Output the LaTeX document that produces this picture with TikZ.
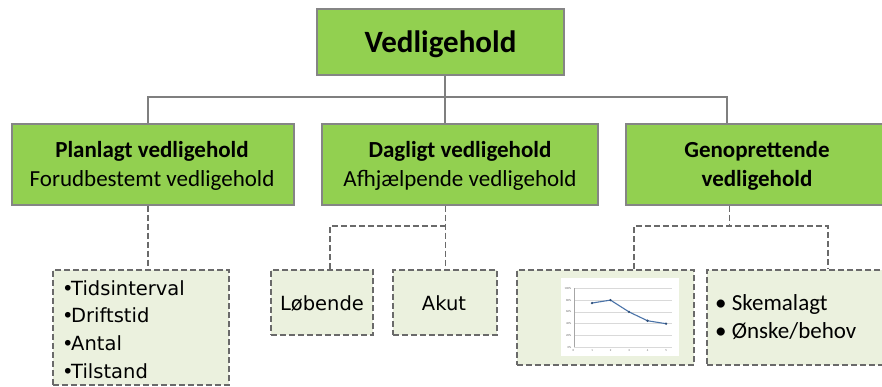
\documentclass[tikz,border=0pt]{standalone}
\usepackage{fontspec}
\setmainfont{Carlito}
\newfontfamily\listfont{DejaVu Sans}
\definecolor{leaf}{HTML}{92D050}
\definecolor{frame}{HTML}{858585}
\definecolor{linkgray}{HTML}{7F7F7F}
\definecolor{pale}{HTML}{EBF1DE}
\definecolor{dashgray}{HTML}{6A6A6A}
\definecolor{gridgray}{HTML}{D9D9D9}
\definecolor{series}{HTML}{4A73A8}
\definecolor{marker}{HTML}{2F4F7A}
\newcommand{\tightbullet}{•\kern-2.5pt}
\begin{document}
\begin{tikzpicture}[x=1pt,y=-1pt,
  greenbox/.style={draw=frame, line width=1.4pt, fill=leaf, inner sep=0pt},
  palebox/.style={draw=dashgray, line width=1.5pt, dash pattern=on 6pt off 3pt, fill=pale, inner sep=0pt},
  link/.style={draw=linkgray, line width=1.6pt},
  dlink/.style={draw=dashgray, line width=1.5pt, dash pattern=on 6pt off 3pt},
  headbold/.style={font=\fontsize{23}{27}\selectfont\bfseries, anchor=base, inner sep=0pt},
  headreg/.style={font=\fontsize{23}{27}\selectfont, anchor=base, inner sep=0pt},
  listtext/.style={font=\listfont\fontsize{19.5}{23}\selectfont, inner sep=0pt},
  tiny/.style={font=\fontsize{3}{3.5}\selectfont, inner sep=0pt, text=black!60}
]
\useasboundingbox (0,0) rectangle (882,387);
\clip (0,0) rectangle (882,387);

% main level
\node[greenbox, minimum width=247pt, minimum height=66pt] (top) at (440.5,42) {};
\node[font=\fontsize{31}{36}\selectfont\bfseries, anchor=base, inner sep=0pt] (toptext) at (440.5,53) {Vedligehold};

% second level
\node[greenbox, minimum width=282pt, minimum height=81pt] (plan) at (153,164.5) {};
\node[greenbox, minimum width=276pt, minimum height=81pt] (daily) at (460,164.5) {};
\node[greenbox, minimum width=262pt, minimum height=81pt] (restore) at (757,164.5) {};

\node[headbold] (plan1) at (152,158) {Planlagt vedligehold};
\node[headreg]  (plan2) at (152,187) {Forudbestemt vedligehold};
\node[headbold] (daily1) at (460,158) {Dagligt vedligehold};
\node[headreg]  (daily2) at (460,187) {Afhjælpende vedligehold};
\node[headbold] (rest1) at (757,158) {Genoprettende};
\node[headbold] (rest2) at (757,187) {vedligehold};

% third level
\node[palebox, minimum width=176pt, minimum height=115pt] (list) at (141,327.5) {};
\node[palebox, minimum width=102pt, minimum height=65pt] (lob) at (322,302.5) {};
\node[palebox, minimum width=104pt, minimum height=65pt] (akut) at (445,302.5) {};
\node[palebox, minimum width=177pt, minimum height=95pt] (chart) at (605.5,317.5) {};
\node[palebox, minimum width=183pt, minimum height=95pt] (plan3) at (798.5,317.5) {};

\node[listtext, anchor=base west] (l1) at (62,295) {\tightbullet Tidsinterval};
\node[listtext, anchor=base west] (l2) at (62,322) {\tightbullet Driftstid};
\node[listtext, anchor=base west] (l3) at (62,350) {\tightbullet Antal};
\node[listtext, anchor=base west] (l4) at (62,378) {\tightbullet Tilstand};
\node[listtext, anchor=base] (lobtext) at (322,310) {Løbende};
\node[listtext, anchor=base] (akuttext) at (444,310) {Akut};
\node[font=\fontsize{23}{27}\selectfont, anchor=base west, inner sep=0pt] (s1) at (715,310) {• Skemalagt};
\node[font=\fontsize{23}{27}\selectfont, anchor=base west, inner sep=0pt] (s2) at (715,338) {• Ønske/behov};

% solid tree connectors
\coordinate (hubL) at (148,97);
\coordinate (hubM) at (445,97);
\coordinate (hubR) at (727,97);
\draw[link] (top.south -| hubM) -- (daily.north -| hubM);
\draw[link] (plan.north -| hubL) -- (hubL) -- (hubR) -- (restore.north -| hubR);

% dashed connectors
\draw[dlink] (plan.south -| hubL) -- (list.north -| hubL);
\coordinate (dayL) at (330,226);
\coordinate (dayR) at (445.5,226);
\draw[dlink] (daily.south -| dayR) -- (akut.north -| dayR);
\draw[dlink] (lob.north -| dayL) -- (dayL) -- (dayR);
\coordinate (resM) at (729.5,226);
\coordinate (resL) at (634,226);
\coordinate (resR) at (828,226);
\draw[dlink] (restore.south -| resM) -- (resM);
\draw[dlink] (chart.north -| resL) -- (resL) -- (resR) -- (plan3.north -| resR);

% small line chart
\fill[white] (561,278) rectangle (679,356);
\foreach \k/\lab in {0/0\%,1/20\%,2/40\%,3/60\%,4/80\%,5/100\%}{
  \draw[gridgray, line width=0.6pt] (574,347.3-11.8*\k) -- (672,347.3-11.8*\k);
  \node[tiny, anchor=east] at (571.5,347.3-11.8*\k) {\lab};
}
\draw[black!35, line width=0.5pt] (574,288) -- (574,347.3);
\foreach \i in {0,...,5}{
  \node[tiny, anchor=north] at (573.5+18.5*\i,349.5) {\i};
}
\draw[series, line width=1.1pt] (592,303.05) -- (610.5,300.1) -- (629,311.9) -- (647.5,320.75) -- (666,323.7);
\foreach \p in {(592,303.05),(610.5,300.1),(629,311.9),(647.5,320.75),(666,323.7)}{
  \fill[marker] \p circle (1.3pt);
}
\end{tikzpicture}
\end{document}
